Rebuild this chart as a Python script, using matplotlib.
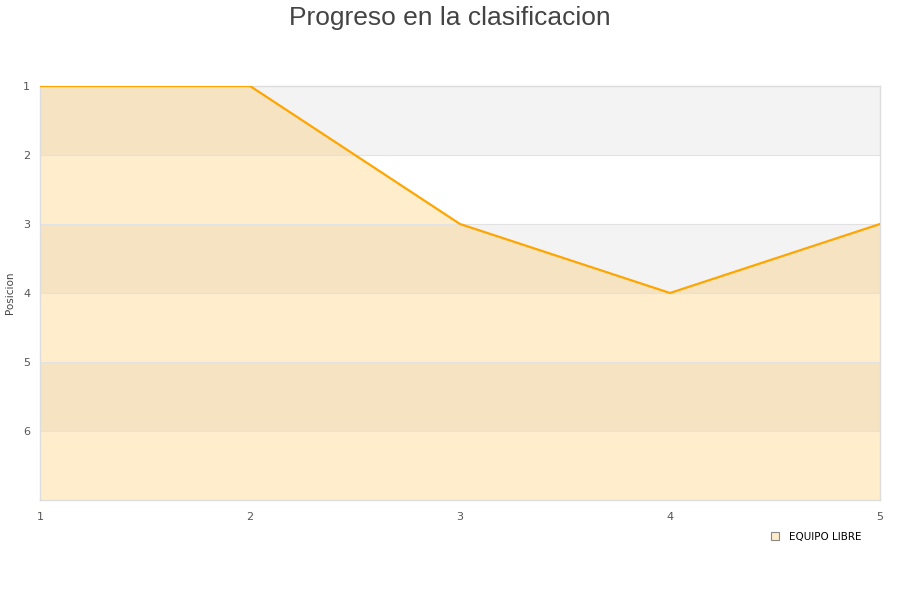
import matplotlib.pyplot as plt
from matplotlib.lines import Line2D

# Data
jornadas = [1, 2, 3, 4, 5]
posiciones = [1, 1, 3, 4, 3]
equipo = "EQUIPO LIBRE"
y_ticks = [1, 2, 3, 4, 5, 6]
y_max = 7

fig = plt.figure(figsize=(9, 6), dpi=100)
ax = fig.add_axes([40 / 900, 1 - 500 / 600, 840 / 900, 414 / 600])

# alternating background bands
for i in range(1, y_max, 2):
    ax.axhspan(i, i + 1, color="#f3f3f3", zorder=0, lw=0)

ax.grid(axis="y", color="#e2e2e2", lw=0.8, zorder=0.5)
ax.fill_between(jornadas, posiciones, y_max, color="orange", alpha=0.2, lw=0, zorder=1)
ax.plot(jornadas, posiciones, color="#ffa500", lw=1.6, zorder=3)

ax.set_xlim(1, 5)
ax.set_ylim(y_max, 1)
ax.set_xticks(jornadas)
ax.set_yticks(y_ticks)
ax.tick_params(axis="x", length=0, labelsize=8, colors="#555555", pad=9)
ax.tick_params(axis="y", length=0, labelsize=8, colors="#555555", pad=7)
for s in ax.spines.values():
    s.set_color("#dddddd")
    s.set_linewidth(1)
ax.set_ylabel("Posicion", fontsize=7.5, color="#444444")
ax.yaxis.set_label_coords(-25 / 840, 0.5)

fig.suptitle("Progreso en la clasificacion", x=0.5, y=0.99, fontsize=19,
             color="#444444", family="Liberation Sans")

handle = Line2D([], [], marker="s", ls="none", markersize=6,
                markerfacecolor="#feecc9", markeredgecolor="#888888", markeredgewidth=0.8)
fig.legend([handle], [equipo], loc="center left", bbox_to_anchor=(760 / 900, 1 - 537 / 600),
           frameon=False, fontsize=7.5, handletextpad=0.4, borderaxespad=0)

fig.savefig("out.png", dpi=100)
